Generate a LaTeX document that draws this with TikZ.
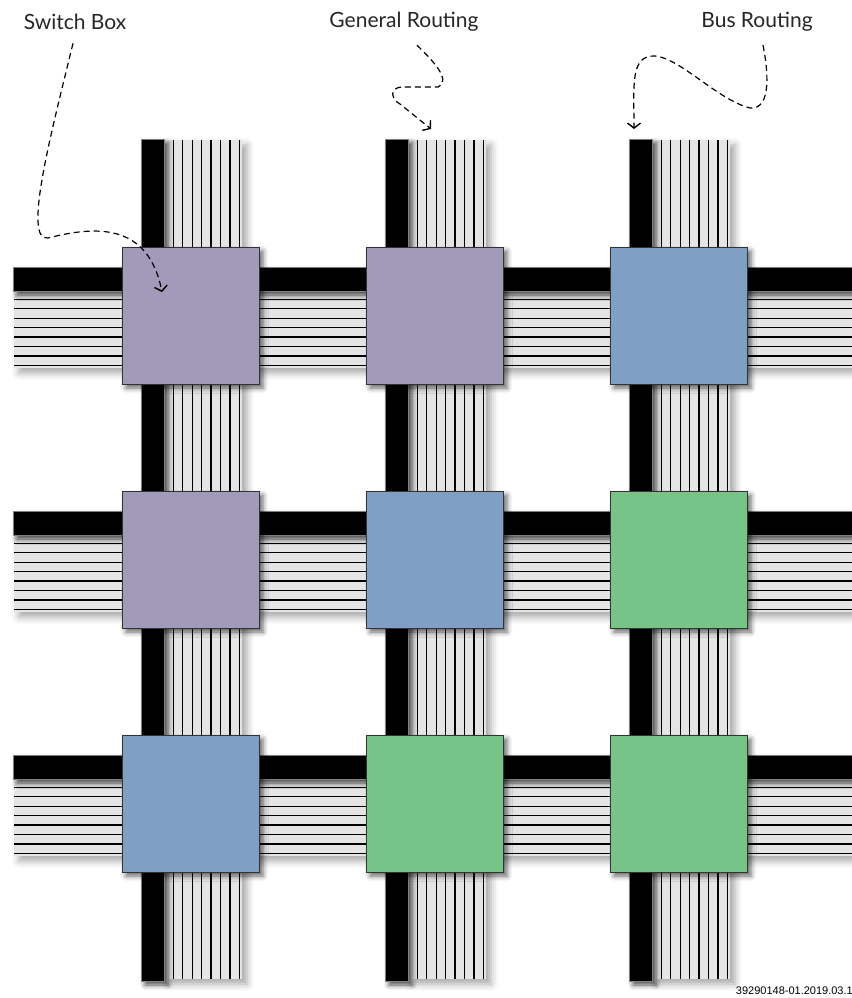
\documentclass[tikz,border=0pt]{standalone}
\usepackage{fontspec}
\setsansfont{Lato}
\newfontfamily\footfont{Liberation Sans}
\usetikzlibrary{arrows.meta,shadows.blur}

\definecolor{boxPurple}{RGB}{162,154,185}
\definecolor{boxBlue}{RGB}{127,160,196}
\definecolor{boxGreen}{RGB}{119,196,137}
\definecolor{bedGray}{RGB}{228,228,228}

\tikzset{
  swbox/.style={draw=black!80, line width=1pt, minimum size=137pt, inner sep=0pt,
    blur shadow={shadow xshift=4pt, shadow yshift=-4pt, shadow blur radius=5pt, shadow opacity=60}},
  busbar/.style={fill=black, draw=black!50, line width=0.8pt,
    blur shadow={shadow xshift=4pt, shadow yshift=-4pt, shadow blur radius=5pt, shadow opacity=70}},
  busbed/.style={fill=bedGray,
    blur shadow={shadow xshift=5pt, shadow yshift=-5pt, shadow blur radius=7pt, shadow opacity=35}},
  wire/.style={line width=1.3pt},
  callout/.style={line width=1.2pt, dash pattern=on 6pt off 4pt,
    -{Straight Barb[length=5pt,width=13pt,line width=1.4pt]}},
  lbl/.style={font=\sffamily\fontsize{21}{24}\selectfont, text=black!85}
}

\begin{document}
\begin{tikzpicture}[x=1pt, y=-1pt]

    \useasboundingbox (0,0) rectangle (851,998);

    % ==========================================
    % 1. Bus verticali (barra nera + 8 fili)
    % ==========================================
    \foreach \i in {0,1,2}{
        \pgfmathsetmacro{\x}{141+244*\i}
        \fill[busbed] (\x+23,140) rectangle (\x+101,979);
        \filldraw[busbar] (\x,139) rectangle (\x+23,981);
        \foreach \k in {0,...,7}{
            \draw[wire] ({\x+32.3+9.43*\k},140) -- ({\x+32.3+9.43*\k},979);
        }
    }

    % ==========================================
    % 2. Bus orizzontali
    % ==========================================
    \foreach \j in {0,1,2}{
        \pgfmathsetmacro{\y}{267+244*\j}
        \fill[busbed] (14,\y+24) rectangle (870,\y+101);
        \filldraw[busbar] (13,\y) rectangle (870,\y+24);
        \foreach \k in {0,...,7}{
            \draw[wire] (14,{\y+32.3+9.43*\k}) -- (870,{\y+32.3+9.43*\k});
        }
    }

    % ==========================================
    % 3. Switch box
    % ==========================================
    \foreach \i/\j/\col in {0/0/boxPurple, 1/0/boxPurple, 2/0/boxBlue,
                            0/1/boxPurple, 1/1/boxBlue,   2/1/boxGreen,
                            0/2/boxBlue,   1/2/boxGreen,  2/2/boxGreen}{
        \node[swbox, fill=\col] (b\i\j) at ({190.5+244*\i},{315.5+244*\j}) {};
    }

    % ==========================================
    % 4. Etichette e frecce tratteggiate
    % ==========================================
    \node[lbl] (lblSwitch) at (75,22) {Switch Box};
    \node[lbl] (lblGeneral) at (404,22) {General Routing};
    \node[lbl] (lblBus) at (757,22) {Bus Routing};

    \coordinate (tipSwitch) at (162,292);
    \coordinate (tipGeneral) at (431,129);
    \coordinate (tipBus) at (634,129);

    \draw[callout] ([shift={(-2,10)}]lblSwitch.south)
        .. controls (52,130) and (22,242) .. (48,238)
        .. controls (95,226) and (148,222) .. (tipSwitch);
    \draw[callout] ([shift={(13,10)}]lblGeneral.south)
        .. controls (432,60) and (452,80) .. (438,87) -- (402,87)
        .. controls (388,88) and (392,100) .. (400,104) -- (tipGeneral);
    \draw[callout] ([shift={(6,10)}]lblBus.south)
        .. controls (768,70) and (772,110) .. (750,108)
        .. controls (718,100) and (680,58) .. (655,56)
        .. controls (630,55) and (634,85) .. (tipBus);

    % sigla in basso
    \node[font=\footfont\fontsize{11}{13}\selectfont, anchor=south east, inner sep=0pt] (code) at (853,995) {39290148-01.2019.03.1};

\end{tikzpicture}
\end{document}
